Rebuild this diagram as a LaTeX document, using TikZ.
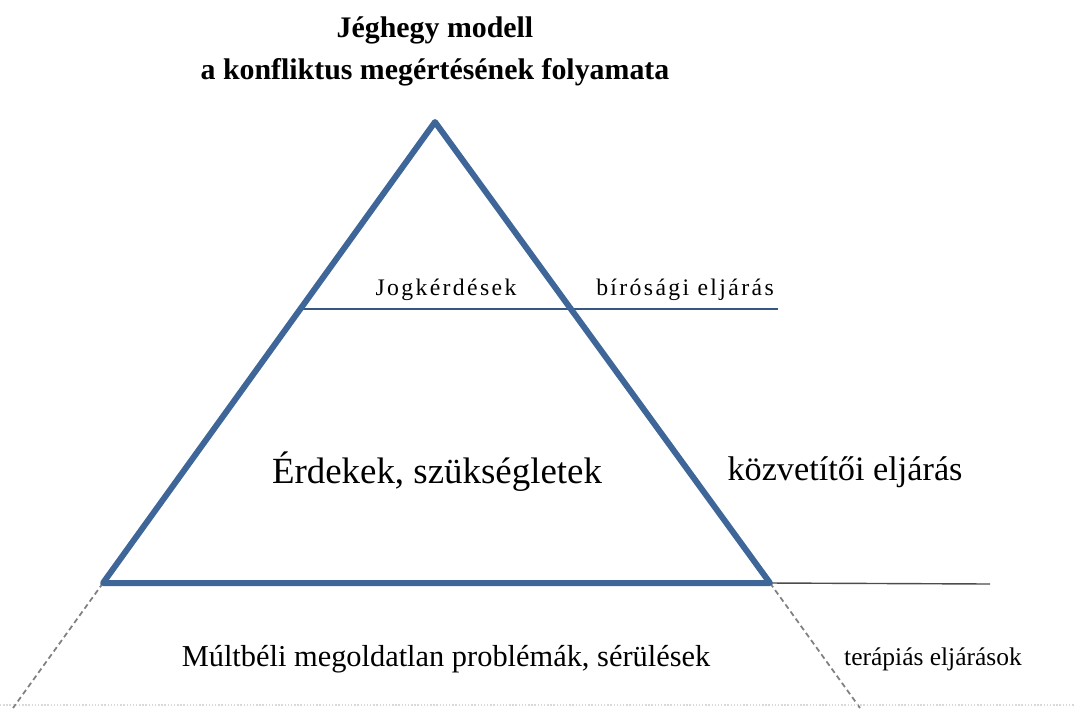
\documentclass[tikz,border=0pt]{standalone}
\usepackage{fontspec}
\setmainfont{Liberation Serif}
\usepackage{xcolor}
\definecolor{icecol}{HTML}{3E6699}
\colorlet{levelcol}{gray!60!black}
\colorlet{dashcol}{gray}

\begin{document}
\begin{tikzpicture}[x=0.02cm, y=-0.02cm]
		\useasboundingbox (0, 0) rectangle (1075, 708);
		\coordinate (apex) at (435, 122);
		\coordinate (baseleft) at (103, 583);
		\coordinate (baseright) at (770, 583);
		\coordinate (lawleft) at (300, 309);
		\coordinate (lawright) at (778, 309);
		\coordinate (medright) at (990, 584);
		\coordinate (deepleft) at (13, 708);
		\coordinate (deepright) at (860, 708);
		\coordinate (floorleft) at (0, 705);
		\coordinate (floorright) at (1075, 705);
		\draw[dashcol, densely dashed, line width=1pt] (baseleft) -- (deepleft) (baseright) -- (deepright);
		\draw[black!15, densely dotted, line width=0.8pt] (floorleft) -- (floorright);
		\draw[icecol!85!black, line width=0.8pt] (lawleft) -- (lawright);
		\draw[levelcol, line width=0.8pt] (baseright) -- (medright);
		\draw[icecol, line width=3.4pt, line join=round] (apex) -- (baseright) -- (baseleft) -- cycle;
		\draw node (title) at (435, 51) [align=center, font=\fontsize{17}{24}\selectfont\bfseries] {J\'eghegy modell\\a konfliktus meg\'ert\'es\'enek folyamata}
		node (law) at (446, 290) [font=\fontsize{13.5}{15}\selectfont\addfontfeature{LetterSpace=10}] {Jogk\'erd\'esek}
		node (court) at (685, 290) [font=\fontsize{13.5}{15}\selectfont\addfontfeature{LetterSpace=10}] {b\'{\i}r\'os\'agi elj\'ar\'as}
		node (needs) at (437, 472) [font=\fontsize{21}{24}\selectfont] {\'Erdekek, sz\"uks\'egletek}
		node (mediation) at (845, 472) [font=\fontsize{19.5}{22}\selectfont] {k\"ozvet\'{\i}t\H{o}i elj\'ar\'as}
		node (past) at (446, 659) [font=\fontsize{17.3}{20}\selectfont] {M\'ultb\'eli megoldatlan probl\'em\'ak, s\'er\"ul\'esek}
		node (therapy) at (933, 659) [font=\fontsize{14.5}{17}\selectfont] {ter\'api\'as elj\'ar\'asok};
	\end{tikzpicture}
\end{document}
